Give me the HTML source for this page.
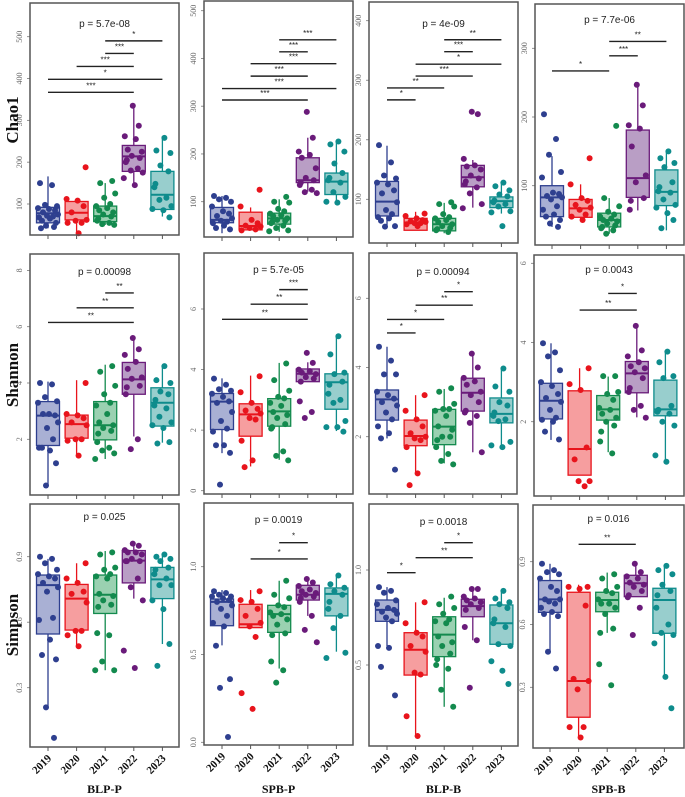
<!DOCTYPE html>
<html><head><meta charset="utf-8">
<style>
html,body{margin:0;padding:0;background:#fff;}
svg{display:block;}
</style></head>
<body>
<svg id="chart" width="685" height="797" viewBox="0 0 685 797" xmlns="http://www.w3.org/2000/svg"></svg>
<script>
const years = ["2019","2020","2021","2022","2023"];
const sites = ["BLP-P","SPB-P","BLP-B","SPB-B"];
const metrics = ["Chao1","Shannon","Simpson"];
const colors = ["#2E3F8F","#E8141C","#138A4E","#6A1B7A","#0E8C8C"];
const fills = ["#8C95C6","#F37D7F","#78C197","#A27DB2","#76BDBC"];

// p-value labels per panel (row-major)
const pLabels = ["p = 5.7e-08","","p = 4e-09","p = 7.7e-06",
 "p = 0.00098","p = 5.7e-05","p = 0.00094","p = 0.0043",
 "p = 0.025","p = 0.0019","p = 0.0018","p = 0.016"];

// box stats per panel: [q1, median, q3, whiskerLow, whiskerHigh] per year
const boxStats = [
 [[55,78,92,42,166],[62,79,106,30,110],[58,71,95,50,150],[178,214,240,146,335],[87,122,178,70,262]],
 [[56,62,88,34,112],[41,49,78,40,88],[53,65,76,37,105],[140,145,192,121,234],[115,142,160,98,226]],
 [[72,96,130,54,190],[48,61,68,48,79],[47,58,68,43,94],[121,137,157,86,166],[86,97,104,76,127]],
 [[55,83,100,40,143],[54,67,80,48,102],[40,50,60,30,82],[83,111,181,64,245],[71,91,123,35,149]],
 [[1.78,2.84,3.34,0.36,4.05],[2.04,2.54,2.86,1.42,4.1],[1.98,2.5,3.34,1.3,4.65],[3.6,4.13,4.73,2.1,5.6],[2.47,3.3,3.83,1.88,4.64]],
 [[2.02,2.94,3.21,1.24,3.71],[1.8,2.52,2.87,0.8,3.8],[2.13,2.62,3.04,1.02,4.22],[3.6,3.86,4.02,3.6,4.24],[2.69,3.58,3.86,1.97,5.13]],
 [[2.48,3.08,3.35,1.95,4.6],[1.74,2.02,2.48,0.94,3.2],[1.77,2.29,2.79,1.23,3.38],[2.74,3.27,3.69,1.55,4.36],[2.4,2.66,3.12,1.73,3.98]],
 [[2.07,2.53,2.97,1.54,3.98],[0.65,1.31,2.78,0.65,3.35],[2.04,2.31,2.66,1.23,3.14],[2.73,3.22,3.52,2.11,4.42],[2.15,2.31,3.05,0.99,3.77]],
 [[0.546,0.77,0.816,0.21,0.89],[0.564,0.708,0.773,0.49,0.87],[0.64,0.726,0.816,0.38,0.926],[0.78,0.882,0.928,0.708,0.96],[0.708,0.796,0.851,0.5,0.908]],
 [[0.664,0.8,0.816,0.552,0.867],[0.653,0.672,0.786,0.653,0.867],[0.626,0.73,0.78,0.42,0.92],[0.81,0.84,0.894,0.72,0.94],[0.72,0.845,0.879,0.516,0.95]],
 [[0.73,0.79,0.842,0.6,0.91],[0.447,0.58,0.67,0.126,0.83],[0.544,0.66,0.754,0.28,0.854],[0.754,0.81,0.846,0.63,0.9],[0.609,0.72,0.816,0.609,0.895]],
 [[0.658,0.72,0.81,0.47,0.89],[0.157,0.33,0.754,0.06,0.79],[0.661,0.717,0.754,0.56,0.848],[0.733,0.797,0.835,0.733,0.897],[0.558,0.717,0.773,0.348,0.879]]
];

// sample points per panel per year
const points = [
 [[150,145,98,95,90,88,85,80,75,72,70,68,65,60,55,48,45,42],[188,112,108,95,80,62,60,55,55,30],[155,150,125,115,100,95,90,85,80,75,70,65,60,55,52,50],[335,287,262,255,230,225,215,210,205,200,185,180,175,162,145],[258,228,222,192,178,148,140,115,110,95,88,85,68]],
 [[112,108,105,100,90,80,75,70,65,60,58,55,50,45,42],[125,90,62,55,50,48,45,42,40],[110,100,98,85,80,75,72,70,65,62,60,58,55,50,45,40,38],[288,234,205,198,192,170,150,145,140,135,125,120,118],[226,220,205,180,160,150,145,140,120,110,100,98]],
 [[191,162,140,135,128,125,115,110,95,82,75,70,68,64,55,54],[76,72,68,65,63,62,60,60,58,55],[95,92,88,75,70,68,65,62,58,55,52,50,48,45],[247,243,168,157,155,150,140,135,130,125,120,110,92,85],[128,122,115,108,105,98,95,92,88,80,78,55]],
 [[204,168,145,120,112,90,88,85,83,80,70,65,58,55,50,45,40],[140,102,82,78,72,68,65,58,55,50],[187,82,70,62,58,55,52,50,48,45,42,40,38,35,30],[247,217,188,183,157,115,105,82,78,65],[150,140,133,127,105,98,92,90,80,72,68,60,50,38]],
 [[4.0,3.95,3.5,3.35,3.3,2.9,2.85,2.9,2.6,2.4,2.0,1.7,1.6,1.7,1.15,0.36],[4.0,2.9,2.85,2.75,2.6,2.5,2.0,2.0,1.95,1.42],[4.6,4.4,3.9,3.6,3.3,3.2,2.9,2.6,2.5,2.4,2.3,2.2,1.9,1.7,1.6,1.5,1.3],[5.6,5.2,5.0,4.75,4.5,4.2,4.15,3.9,3.85,3.6,2.0,1.65],[4.6,4.1,4.0,3.7,3.6,3.4,3.2,3.1,2.8,2.6,2.5,2.4,1.9,1.85]],
 [[3.7,3.5,3.35,3.3,3.2,3.1,2.95,2.9,2.6,2.3,2.05,1.95,1.5,1.5,1.25,0.2],[3.78,3.25,2.9,2.7,2.65,2.55,2.4,2.35,1.65,1.0,0.78],[4.2,3.65,3.3,3.1,3.05,2.9,2.8,2.6,2.5,2.4,2.2,2.1,2.05,1.3,1.15,1.0],[4.55,4.22,4.0,3.95,3.9,3.85,3.75,3.7,3.6,2.95,2.6,2.4],[5.1,4.5,3.9,3.85,3.6,3.5,3.2,3.0,2.9,2.3,2.1,2.1,1.95]],
 [[4.6,4.2,3.8,3.8,3.3,3.2,3.1,3.0,2.9,2.7,2.5,2.3,2.1,1.95,1.05],[3.2,2.75,2.5,2.3,2.1,2.0,1.95,1.9,1.7,0.94,0.6],[3.4,3.3,2.95,2.8,2.8,2.75,2.6,2.3,2.2,2.0,2.0,1.9,1.7,1.5,1.3,1.2],[4.4,4.0,3.7,3.6,3.5,3.3,3.2,3.0,2.75,2.7,2.6,2.4,1.55],[3.97,3.45,3.3,3.0,2.9,2.7,2.6,2.5,2.45,1.85,1.75,1.7]],
 [[3.98,3.75,3.65,3.3,3.0,2.9,2.7,2.6,2.5,2.3,2.1,2.05,2.0,1.75,1.55],[3.35,2.95,2.8,1.35,1.05,0.5,0.5,0.37],[3.15,3.15,2.75,2.7,2.55,2.35,2.3,2.2,2.1,2.0,1.9,1.75,1.5,1.2],[4.42,3.8,3.65,3.5,3.4,3.35,3.25,3.1,2.85,2.75,2.4,2.3,2.1],[3.77,3.5,3.15,3.1,2.4,2.3,2.25,2.2,2.0,1.9,1.15,0.99]],
 [[0.9,0.89,0.87,0.84,0.82,0.81,0.8,0.78,0.76,0.74,0.62,0.61,0.52,0.45,0.43,0.21,0.07],[0.87,0.8,0.78,0.74,0.73,0.69,0.56,0.56,0.54,0.49],[0.92,0.91,0.85,0.84,0.82,0.81,0.8,0.73,0.72,0.7,0.68,0.67,0.55,0.54,0.42,0.38,0.38],[0.96,0.95,0.93,0.92,0.92,0.91,0.89,0.88,0.88,0.88,0.8,0.76,0.7,0.47,0.39],[0.91,0.9,0.89,0.88,0.85,0.84,0.82,0.8,0.77,0.77,0.7,0.66,0.5,0.4]],
 [[0.86,0.85,0.84,0.83,0.83,0.82,0.81,0.8,0.78,0.76,0.72,0.68,0.66,0.55,0.36,0.31,0.03],[0.86,0.81,0.8,0.76,0.72,0.68,0.66,0.6,0.28,0.19],[0.92,0.84,0.82,0.78,0.77,0.74,0.73,0.72,0.7,0.67,0.62,0.61,0.46,0.41,0.34],[0.93,0.91,0.89,0.87,0.86,0.85,0.84,0.83,0.82,0.8,0.72,0.64,0.57],[0.95,0.9,0.88,0.86,0.84,0.8,0.76,0.72,0.65,0.51,0.48]],
 [[0.91,0.89,0.88,0.84,0.82,0.8,0.79,0.78,0.77,0.75,0.73,0.6,0.59,0.49,0.34],[0.83,0.72,0.67,0.65,0.6,0.57,0.46,0.45,0.23,0.126],[0.86,0.82,0.8,0.77,0.74,0.73,0.72,0.65,0.62,0.6,0.56,0.53,0.5,0.48,0.37,0.28],[0.9,0.9,0.86,0.85,0.84,0.83,0.82,0.8,0.79,0.7,0.63,0.38],[0.89,0.85,0.83,0.82,0.8,0.74,0.72,0.7,0.61,0.6,0.52,0.47,0.4]],
 [[0.89,0.86,0.85,0.84,0.82,0.78,0.76,0.72,0.72,0.71,0.7,0.68,0.66,0.65,0.64,0.47,0.39],[0.78,0.78,0.77,0.69,0.34,0.33,0.29,0.11,0.11,0.06],[0.84,0.82,0.78,0.76,0.75,0.72,0.7,0.7,0.68,0.65,0.58,0.56,0.41,0.31],[0.89,0.85,0.83,0.82,0.8,0.79,0.78,0.76,0.74,0.73,0.68,0.55],[0.88,0.86,0.84,0.79,0.76,0.74,0.68,0.6,0.56,0.55,0.51,0.35,0.2]]
];

// significance brackets per panel: [groupA, groupB, value-level, label]
const brackets = [
 [[2,4,490,"*"],[2,3,460,"***"],[1,3,429,"***"],[0,4,398,"*"],[0,3,367,"***"]],
 [[2,4,439,"***"],[2,3,414,"***"],[1,4,389,"***"],[1,3,363,"***"],[0,4,337,"***"],[0,3,313,"***"]],
 [[2,4,368,"**"],[2,3,348,"***"],[1,4,327,"*"],[1,3,307,"***"],[0,2,287,"**"],[0,1,267,"*"]],
 [[2,4,310,"**"],[2,3,289,"***"],[0,2,267,"*"]],
 [[2,3,7.2,"**"],[1,3,6.67,"**"],[0,3,6.15,"**"]],
 [[2,3,6.64,"***"],[1,3,6.16,"**"],[0,3,5.66,"**"]],
 [[2,3,6.19,"*"],[1,3,5.8,"**"],[0,2,5.39,"*"],[0,1,5.0,"*"]],
 [[2,3,5.24,"*"],[1,3,4.82,"**"]],
 [],
 [[2,3,1.137,"*"],[1,3,1.044,"*"]],
 [[2,3,1.144,"*"],[1,3,1.065,"**"],[0,1,0.986,"*"]],
 [[1,3,0.983,"**"]]
];

// tick values per panel
const ticks = [
 [100,200,300,400,500],[100,200,300,400,500],[100,200,300,400],[100,200,300],
 [2,4,6,8],[0,2,4,6],[2,4,6],[2,4,6],
 [0.3,0.6,0.9],[0,0.5,1.0],[0.5,1.0],[0.3,0.6,0.9]
];
const tickLabels = [
 ["100","200","300","400","500"],["100","200","300","400","500"],["100","200","300","400"],["100","200","300"],
 ["2","4","6","8"],["0","2","4","6"],["2","4","6"],["2","4","6"],
 ["0.3","0.6","0.9"],["0.0","0.5","1.0"],["0.5","1.0"],["0.3","0.6","0.9"]
];

// layout (pixels): frame [l,t,r,b], scale anchors [v1,y1,v2,y2], p-label y
const frames = [
 [30,3,179,235],[204,1,353,237],[369,2,518,243],[535,4,684,245],
 [30,254,179,495],[204,253,353,494],[369,253,517,494],[534,255,684,496],
 [30,504,179,747],[204,503,353,745],[369,504,518,746],[533,505,684,748]];
const anchors = [
 [100,204,500,36.7],[100,201.7,500,10.7],[100,199.3,400,20.7],[100,185.7,300,48.3],
 [2,439.3,6,326.7],[0,490.7,6,309],[2,436.7,6,298.3],[2,421.7,6,263.3],
 [0.3,687.7,0.9,556.7],[0,742.3,1,566.7],[0.5,665,1,570],[0.3,687.3,0.9,561.7]];
const pY = [23,0,23,19,271,269,271,269,516,519,521,518];

const NS="http://www.w3.org/2000/svg";
const svg=document.getElementById('chart');
function mk(tag,attrs,parent){const e=document.createElementNS(NS,tag);for(const k in attrs)e.setAttribute(k,attrs[k]);(parent||svg).appendChild(e);return e;}
const jit=[-8,4,-3,9,-10,1,7,-5,10,-1,5,-9,2,-6,8,-2,6,-7];

for(let p=0;p<12;p++){
  const [l,t,r,b]=frames[p];
  const [v1,y1,v2,y2]=anchors[p];
  const yS=v=>y1+(v-v1)*(y2-y1)/(v2-v1);
  const off = (p%4===3)?17:18;
  const xS=i=>l+off+i*28.6;
  const g=mk('g',{});
  
  
  ticks[p].forEach((tv,k)=>{
    const ty=yS(tv);
    if(ty<t||ty>b) return;
    const tl=mk('line',{x1:l-3,x2:l,y1:ty,y2:ty,stroke:'#777','stroke-width':0.8},g);
    
    
    const tx=mk('text',{x:l-8,y:ty,'font-family':'Liberation Serif, serif','font-size':8,fill:'#666','text-anchor':'middle',transform:`rotate(-90 ${l-8} ${ty})`},g);
    tx.textContent=tickLabels[p][k];
    
    
  });
  for(let i=0;i<5;i++){
    const xt=mk('line',{x1:xS(i),x2:xS(i),y1:b,y2:b+4,stroke:'#555','stroke-width':1},g);
    
    
  }
  for(let i=0;i<5;i++){
    const [q1,md,q3,wl,wh]=boxStats[p][i];
    const cx=xS(i);
    const bg=mk('g',{},g);
    
    
    mk('line',{x1:cx,x2:cx,y1:yS(wh),y2:yS(q3),stroke:colors[i],'stroke-width':1.3},bg);
    mk('line',{x1:cx,x2:cx,y1:yS(q1),y2:yS(wl),stroke:colors[i],'stroke-width':1.3},bg);
    mk('rect',{x:cx-11.5,y:yS(q3),width:23,height:Math.max(1,yS(q1)-yS(q3)),fill:fills[i],'fill-opacity':0.75,stroke:colors[i],'stroke-width':1.3},bg);
    mk('line',{x1:cx-11.5,x2:cx+11.5,y1:yS(md),y2:yS(md),stroke:colors[i],'stroke-width':2},bg);
    points[p][i].forEach((v,k)=>{
      const c=mk('circle',{cx:cx+jit[(k+i*3)%jit.length],cy:yS(v),r:3,fill:colors[i]},bg);
      
      
    });
  }
  brackets[p].forEach(br=>{
    const [a,c,lv,lab]=br;
    const by=yS(lv);
    const ln=mk('line',{x1:xS(a),x2:xS(c),y1:by,y2:by,stroke:'#222','stroke-width':1.4},g);
    
    
    const st=mk('text',{x:(xS(a)+xS(c))/2,y:by-4,'font-family':'Liberation Sans, sans-serif','font-size':8,fill:'#222','text-anchor':'middle'},g);
    st.textContent=lab;
    
    
  });
  if(pLabels[p]){
    const pt=mk('text',{x:(l+r)/2,y:pY[p]+4,'font-family':'Liberation Sans, sans-serif','font-size':10,fill:'#222','text-anchor':'middle'},g);
    pt.textContent=pLabels[p];
    
    
  }
  const fr=mk('rect',{x:l,y:t,width:r-l,height:b-t,fill:'none',stroke:'#555','stroke-width':1.5},g);
  
  
}
const rowCenters=[120,375,625];
metrics.forEach((m,i)=>{
  const t=mk('text',{x:18,y:rowCenters[i],'font-family':'Liberation Serif, serif','font-size':17,'font-weight':'bold',fill:'#111','text-anchor':'middle',transform:`rotate(-90 18 ${rowCenters[i]})`});
  t.textContent=m;
  
  
});
for(let c=0;c<4;c++){
  const [l,t,r,b]=frames[8+c];
  const off=(c===3)?17:18;
  for(let i=0;i<5;i++){
    const x=l+off+i*28.6+4, y=b+12;
    const t2=mk('text',{x:x,y:y,'font-family':'Liberation Serif, serif','font-size':11,'font-weight':'bold',fill:'#111','text-anchor':'end',transform:`rotate(-45 ${x} ${y})`});
    t2.textContent=years[i];
    
    
  }
  const ct=mk('text',{x:(l+r)/2,y:793,'font-family':'Liberation Serif, serif','font-size':12,'font-weight':'bold',fill:'#111','text-anchor':'middle'});
  ct.textContent=sites[c];
  
  
}
</script>
</body></html>
